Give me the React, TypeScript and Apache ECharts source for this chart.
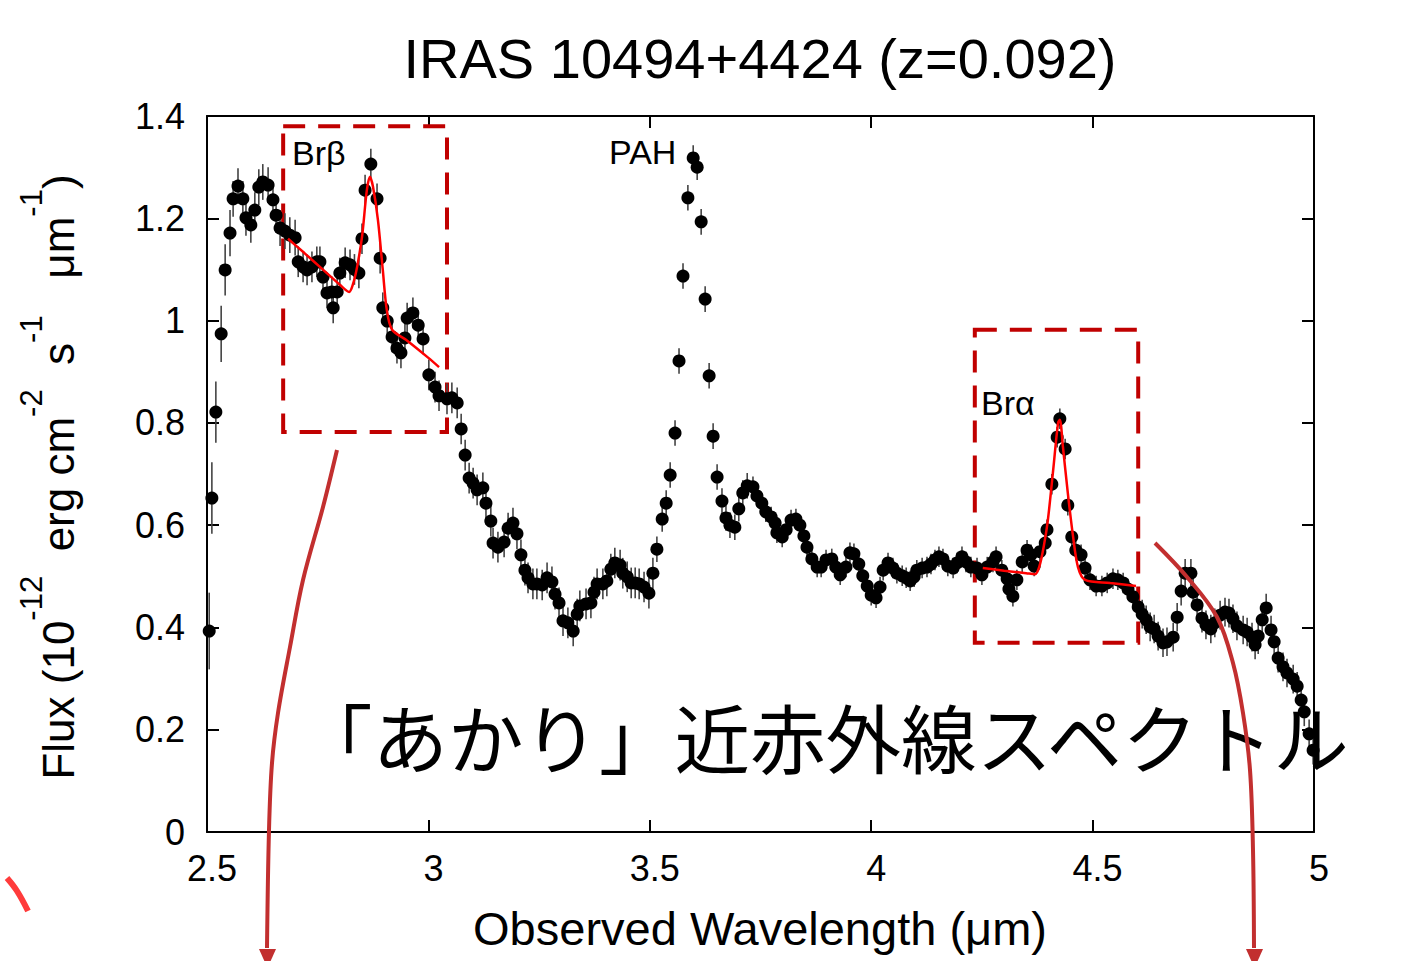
import React, { useEffect, useRef } from 'react';
import * as echarts from 'echarts';

const FONT = '"Liberation Sans", Arial, Helvetica, sans-serif';
const JP_FONT = '"Noto Sans CJK JP", "Noto Sans CJK SC", sans-serif';

// Observed wavelength (µm)
const wavelength = [
  2.505, 2.511, 2.520, 2.532, 2.541, 2.552, 2.559, 2.570, 2.581, 2.588,
  2.599, 2.608, 2.617, 2.626, 2.638, 2.649, 2.656, 2.665, 2.676, 2.687,
  2.699, 2.706, 2.717, 2.726, 2.737, 2.748, 2.755, 2.762, 2.771, 2.782,
  2.785, 2.794, 2.800, 2.812, 2.823, 2.833, 2.843, 2.850, 2.857, 2.870,
  2.884, 2.891, 2.897, 2.907, 2.918, 2.929, 2.938, 2.947, 2.952, 2.965,
  2.977, 2.988, 3.001, 3.015, 3.024, 3.042, 3.053, 3.065, 3.074, 3.083,
  3.092, 3.101, 3.110, 3.123, 3.130, 3.141, 3.146, 3.157, 3.171, 3.180,
  3.191, 3.200, 3.209, 3.218, 3.225, 3.236, 3.245, 3.257, 3.268, 3.279,
  3.286, 3.295, 3.304, 3.315, 3.327, 3.336, 3.342, 3.356, 3.367, 3.374,
  3.381, 3.394, 3.403, 3.412, 3.421, 3.433, 3.439, 3.449, 3.458, 3.467,
  3.476, 3.487, 3.498, 3.507, 3.516, 3.528, 3.537, 3.546, 3.557, 3.566,
  3.575, 3.586, 3.598, 3.607, 3.616, 3.625, 3.634, 3.643, 3.652, 3.663,
  3.672, 3.681, 3.692, 3.701, 3.710, 3.720, 3.733, 3.742, 3.753, 3.762,
  3.774, 3.783, 3.787, 3.799, 3.808, 3.819, 3.830, 3.839, 3.848, 3.855,
  3.866, 3.878, 3.887, 3.898, 3.911, 3.920, 3.930, 3.943, 3.952, 3.961,
  3.972, 3.981, 3.991, 4.000, 4.011, 4.020, 4.027, 4.038, 4.049, 4.058,
  4.070, 4.079, 4.088, 4.097, 4.103, 4.115, 4.126, 4.135, 4.144, 4.153,
  4.162, 4.173, 4.185, 4.194, 4.205, 4.214, 4.225, 4.239, 4.250, 4.262,
  4.275, 4.282, 4.295, 4.307, 4.311, 4.320, 4.329, 4.341, 4.352, 4.361,
  4.368, 4.381, 4.393, 4.397, 4.408, 4.420, 4.426, 4.438, 4.444, 4.453,
  4.462, 4.474, 4.483, 4.494, 4.508, 4.521, 4.533, 4.546, 4.557, 4.569,
  4.580, 4.591, 4.603, 4.612, 4.621, 4.630, 4.639, 4.648, 4.659, 4.668,
  4.682, 4.691, 4.700, 4.709, 4.722, 4.727, 4.736, 4.747, 4.756, 4.767,
  4.776, 4.788, 4.799, 4.808, 4.817, 4.826, 4.840, 4.849, 4.860, 4.867,
  4.874, 4.883, 4.892, 4.903, 4.910, 4.919, 4.930, 4.939, 4.953, 4.962,
  4.971, 4.978, 4.989, 4.998,
];

// Flux (1e-12 erg cm^-2 s^-1 µm^-1)
const flux = [
  0.393, 0.653, 0.821, 0.974, 1.099, 1.171, 1.238, 1.263, 1.238, 1.201,
  1.187, 1.216, 1.261, 1.271, 1.265, 1.236, 1.206, 1.181, 1.175, 1.167,
  1.162, 1.115, 1.105, 1.099, 1.105, 1.115, 1.115, 1.085, 1.054, 1.056,
  1.025, 1.056, 1.093, 1.113, 1.109, 1.100, 1.093, 1.160, 1.255, 1.306,
  1.238, 1.122, 1.025, 0.999, 0.968, 0.946, 0.937, 0.966, 1.005, 1.015,
  0.991, 0.964, 0.894, 0.870, 0.853, 0.847, 0.849, 0.839, 0.788, 0.737,
  0.692, 0.682, 0.669, 0.673, 0.643, 0.608, 0.565, 0.557, 0.567, 0.594,
  0.604, 0.583, 0.542, 0.512, 0.497, 0.485, 0.485, 0.483, 0.497, 0.489,
  0.465, 0.448, 0.413, 0.409, 0.393, 0.426, 0.442, 0.446, 0.448, 0.469,
  0.485, 0.485, 0.491, 0.514, 0.526, 0.522, 0.506, 0.499, 0.487, 0.487,
  0.485, 0.479, 0.467, 0.506, 0.553, 0.612, 0.643, 0.698, 0.780, 0.921,
  1.087, 1.240, 1.318, 1.300, 1.193, 1.042, 0.892, 0.774, 0.694, 0.647,
  0.614, 0.600, 0.596, 0.632, 0.663, 0.677, 0.675, 0.657, 0.643, 0.626,
  0.616, 0.604, 0.585, 0.577, 0.591, 0.610, 0.612, 0.600, 0.579, 0.557,
  0.534, 0.518, 0.518, 0.532, 0.534, 0.518, 0.503, 0.518, 0.546, 0.544,
  0.524, 0.501, 0.481, 0.463, 0.458, 0.479, 0.512, 0.526, 0.516, 0.506,
  0.501, 0.497, 0.491, 0.499, 0.512, 0.516, 0.518, 0.524, 0.532, 0.538,
  0.534, 0.520, 0.516, 0.526, 0.538, 0.528, 0.518, 0.516, 0.503, 0.518,
  0.528, 0.538, 0.512, 0.495, 0.475, 0.461, 0.493, 0.528, 0.551, 0.542,
  0.520, 0.548, 0.565, 0.591, 0.680, 0.772, 0.808, 0.749, 0.639, 0.577,
  0.551, 0.542, 0.516, 0.493, 0.481, 0.481, 0.487, 0.495, 0.493, 0.487,
  0.475, 0.460, 0.440, 0.426, 0.415, 0.401, 0.397, 0.383, 0.370, 0.372,
  0.381, 0.420, 0.471, 0.506, 0.506, 0.469, 0.444, 0.418, 0.405, 0.397,
  0.409, 0.424, 0.430, 0.428, 0.417, 0.403, 0.395, 0.391, 0.381, 0.366,
  0.383, 0.415, 0.438, 0.395, 0.372, 0.340, 0.323, 0.311, 0.299, 0.285,
  0.258, 0.235, 0.192, 0.160,
];

// 1-sigma error on flux
const fluxErr = [
  0.075, 0.070, 0.060, 0.055, 0.050, 0.045, 0.035, 0.035, 0.035, 0.035,
  0.035, 0.035, 0.035, 0.035, 0.035, 0.035, 0.035, 0.035, 0.035, 0.035,
  0.035, 0.030, 0.030, 0.030, 0.030, 0.030, 0.030, 0.030, 0.030, 0.030,
  0.030, 0.030, 0.030, 0.030, 0.030, 0.030, 0.030, 0.030, 0.030, 0.030,
  0.030, 0.030, 0.030, 0.030, 0.030, 0.030, 0.030, 0.030, 0.030, 0.030,
  0.030, 0.030, 0.030, 0.030, 0.030, 0.030, 0.030, 0.030, 0.030, 0.030,
  0.030, 0.030, 0.030, 0.030, 0.030, 0.030, 0.030, 0.030, 0.030, 0.030,
  0.030, 0.030, 0.030, 0.030, 0.030, 0.030, 0.030, 0.030, 0.030, 0.030,
  0.030, 0.030, 0.030, 0.030, 0.030, 0.030, 0.030, 0.030, 0.030, 0.030,
  0.030, 0.030, 0.030, 0.030, 0.030, 0.030, 0.030, 0.030, 0.030, 0.030,
  0.030, 0.030, 0.030, 0.030, 0.025, 0.025, 0.025, 0.025, 0.025, 0.025,
  0.025, 0.025, 0.025, 0.025, 0.025, 0.025, 0.025, 0.025, 0.025, 0.025,
  0.025, 0.025, 0.025, 0.025, 0.025, 0.025, 0.020, 0.020, 0.020, 0.020,
  0.020, 0.020, 0.020, 0.020, 0.020, 0.020, 0.020, 0.020, 0.020, 0.020,
  0.020, 0.020, 0.020, 0.020, 0.020, 0.020, 0.020, 0.020, 0.020, 0.020,
  0.020, 0.020, 0.020, 0.020, 0.020, 0.020, 0.020, 0.020, 0.020, 0.020,
  0.020, 0.020, 0.020, 0.020, 0.020, 0.020, 0.020, 0.020, 0.020, 0.020,
  0.020, 0.020, 0.020, 0.020, 0.020, 0.020, 0.020, 0.020, 0.020, 0.020,
  0.020, 0.020, 0.020, 0.020, 0.020, 0.020, 0.020, 0.020, 0.020, 0.020,
  0.020, 0.020, 0.020, 0.020, 0.020, 0.020, 0.020, 0.020, 0.020, 0.020,
  0.020, 0.020, 0.020, 0.020, 0.020, 0.020, 0.020, 0.020, 0.020, 0.020,
  0.020, 0.020, 0.020, 0.028, 0.028, 0.028, 0.028, 0.028, 0.028, 0.028,
  0.028, 0.028, 0.028, 0.028, 0.028, 0.028, 0.028, 0.028, 0.028, 0.028,
  0.028, 0.028, 0.028, 0.028, 0.028, 0.028, 0.028, 0.028, 0.028, 0.028,
  0.035, 0.028, 0.028, 0.028, 0.028, 0.028, 0.028, 0.028, 0.028, 0.028,
  0.028, 0.028, 0.028, 0.028,
];

// Brβ line fit
const brBetaFitX = [2.683, 2.72, 2.76, 2.80, 2.821, 2.830, 2.839, 2.850, 2.861, 2.868, 2.875, 2.886, 2.897, 2.906, 2.918, 2.95, 3.0, 3.024];
const brBetaFitY = [1.160, 1.132, 1.101, 1.070, 1.056, 1.072, 1.105, 1.163, 1.255, 1.281, 1.261, 1.197, 1.099, 1.021, 0.982, 0.962, 0.927, 0.909];

// Brα line fit
const brAlphaFitX = [4.252, 4.30, 4.35, 4.370, 4.380, 4.390, 4.399, 4.411, 4.422, 4.426, 4.433, 4.444, 4.456, 4.467, 4.483, 4.54, 4.598];
const brAlphaFitY = [0.516, 0.511, 0.506, 0.504, 0.520, 0.560, 0.610, 0.708, 0.800, 0.806, 0.753, 0.663, 0.577, 0.518, 0.493, 0.487, 0.481];

// Dashed boxes around lines: [x0, y0, x1, y1] in data units
const brBetaBox = [2.672, 1.380, 3.042, 0.782];
const brAlphaBox = [4.234, 0.982, 4.603, 0.370];

const titleText = 'IRAS 10494+4424 (z=0.092)';
const xAxisTitle = 'Observed Wavelength (μm)';
const japaneseCaption = '「あかり」近赤外線スペクトル';

export default function App() {
  const ref = useRef<HTMLDivElement>(null);

  useEffect(() => {
    if (!ref.current) return;
    const chart = echarts.init(ref.current, null, { renderer: 'svg' });

    const points = wavelength.map((x, i) => [x, flux[i], fluxErr[i]]);
    const betaFit = brBetaFitX.map((x, i) => [x, brBetaFitY[i]]);
    const alphaFit = brAlphaFitX.map((x, i) => [x, brAlphaFitY[i]]);

    const boxStyle = {
      color: 'rgba(0,0,0,0)',
      borderColor: '#c00000',
      borderWidth: 4,
      borderType: [22, 13],
    };

    const axisCommon = {
      type: 'value',
      min: 2.5,
      max: 5,
      interval: 0.5,
      splitLine: { show: false },
    };
    const yCommon = {
      type: 'value',
      min: 0,
      max: 1.4,
      interval: 0.2,
      splitLine: { show: false },
    };
    const lineStyle = { color: '#000', width: 2 };
    const tickStyle = { show: true, inside: true, length: 12, lineStyle: { color: '#000', width: 2 } };

    const arrowColor = '#c22f2f';

    const option: any = {
      animation: false,
      backgroundColor: '#ffffff',
      textStyle: { fontFamily: FONT },
      grid: { left: 207, right: 113, top: 116, bottom: 129, containLabel: false },
      xAxis: [
        {
          ...axisCommon,
          position: 'bottom',
          axisLine: { show: true, onZero: false, lineStyle },
          axisTick: tickStyle,
          axisLabel: { color: '#000', fontSize: 36, margin: 18, fontFamily: FONT, padding: [0, 0, 0, 10] },
        },
        {
          ...axisCommon,
          position: 'top',
          axisLine: { show: true, onZero: false, lineStyle },
          axisTick: tickStyle,
          axisLabel: { show: false },
        },
      ],
      yAxis: [
        {
          ...yCommon,
          position: 'left',
          axisLine: { show: true, onZero: false, lineStyle },
          axisTick: tickStyle,
          axisLabel: { color: '#000', fontSize: 36, margin: 22, fontFamily: FONT },
        },
        {
          ...yCommon,
          position: 'right',
          axisLine: { show: true, onZero: false, lineStyle },
          axisTick: tickStyle,
          axisLabel: { show: false },
        },
      ],
      series: [
        {
          type: 'custom',
          name: 'errors',
          xAxisIndex: 0,
          yAxisIndex: 0,
          data: points,
          encode: { x: 0, y: 1 },
          silent: true,
          z: 2,
          renderItem: (params: any, api: any) => {
            const x = api.value(0);
            const y = api.value(1);
            const e = api.value(2);
            const top = api.coord([x, y + e]);
            const bot = api.coord([x, y - e]);
            return {
              type: 'line',
              shape: { x1: top[0], y1: top[1], x2: bot[0], y2: bot[1] },
              style: { stroke: '#444', lineWidth: 1.6 },
            };
          },
        },
        {
          type: 'scatter',
          name: 'flux',
          xAxisIndex: 0,
          yAxisIndex: 0,
          data: points.map((p) => [p[0], p[1]]),
          symbol: 'circle',
          symbolSize: 13,
          itemStyle: { color: '#000', opacity: 1 },
          silent: true,
          z: 3,
        },
        {
          type: 'line',
          name: 'Brβ fit',
          xAxisIndex: 0,
          yAxisIndex: 0,
          data: betaFit,
          symbol: 'none',
          smooth: 0.3,
          lineStyle: { color: '#ff0000', width: 2.5 },
          silent: true,
          z: 4,
          markArea: {
            silent: true,
            itemStyle: boxStyle,
            data: [[{ xAxis: brBetaBox[0], yAxis: brBetaBox[1] }, { xAxis: brBetaBox[2], yAxis: brBetaBox[3] }]],
          },
        },
        {
          type: 'line',
          name: 'Brα fit',
          xAxisIndex: 0,
          yAxisIndex: 0,
          data: alphaFit,
          symbol: 'none',
          smooth: 0.3,
          lineStyle: { color: '#ff0000', width: 2.5 },
          silent: true,
          z: 4,
          markArea: {
            silent: true,
            itemStyle: boxStyle,
            data: [[{ xAxis: brAlphaBox[0], yAxis: brAlphaBox[1] }, { xAxis: brAlphaBox[2], yAxis: brAlphaBox[3] }]],
          },
        },
      ],
      graphic: [
        {
          type: 'text',
          x: 760,
          y: 58,
          z: 100,
          style: { text: titleText, fill: '#000', fontSize: 56, fontFamily: FONT, align: 'center', verticalAlign: 'middle' },
        },
        {
          type: 'text',
          x: 760,
          y: 928,
          z: 100,
          style: { text: xAxisTitle, fill: '#000', fontSize: 47, fontFamily: FONT, align: 'center', verticalAlign: 'middle' },
        },
        {
          type: 'text',
          x: 58,
          y: 477,
          rotation: Math.PI / 2,
          z: 100,
          style: {
            text: '{b|Flux (10}{s|-12}{b|  erg cm}{s|-2}{b|  s}{s|-1}{b|   μm}{s|-1}{b|)}',
            fill: '#000',
            align: 'center',
            verticalAlign: 'middle',
            rich: {
              b: { fontSize: 44, fontFamily: FONT, fill: '#000', lineHeight: 84 },
              s: { fontSize: 31, fontFamily: FONT, fill: '#000', verticalAlign: 'top' },
            },
          },
        },
        {
          type: 'text',
          x: 292,
          y: 153,
          z: 100,
          style: { text: 'Brβ', fill: '#000', fontSize: 34, fontFamily: FONT, align: 'left', verticalAlign: 'middle' },
        },
        {
          type: 'text',
          x: 609,
          y: 152,
          z: 100,
          style: { text: 'PAH', fill: '#000', fontSize: 34, fontFamily: FONT, align: 'left', verticalAlign: 'middle' },
        },
        {
          type: 'text',
          x: 981,
          y: 403,
          z: 100,
          style: { text: 'Brα', fill: '#000', fontSize: 34, fontFamily: FONT, align: 'left', verticalAlign: 'middle' },
        },
        {
          type: 'text',
          x: 297,
          y: 735,
          z: 100,
          style: { text: japaneseCaption, fill: '#000', fontSize: 75.5, fontFamily: JP_FONT, align: 'left', verticalAlign: 'middle' },
        },
        {
          type: 'polyline',
          z: 100,
          shape: {
            points: [[337, 450], [323, 507], [303, 580], [290, 647], [278, 713], [272, 763], [269, 830], [267, 948]],
            smooth: 0.35,
          },
          style: { stroke: arrowColor, lineWidth: 4, fill: null },
        },
        {
          type: 'polygon',
          z: 100,
          shape: { points: [[259, 949], [276, 949], [267.5, 968]] },
          style: { fill: arrowColor },
        },
        {
          type: 'polyline',
          z: 100,
          shape: {
            points: [[1155, 543], [1187, 577], [1217, 617], [1233, 663], [1243, 713], [1250, 770], [1253, 850], [1254, 948]],
            smooth: 0.35,
          },
          style: { stroke: arrowColor, lineWidth: 4, fill: null },
        },
        {
          type: 'polygon',
          z: 100,
          shape: { points: [[1246, 949], [1263, 949], [1254.5, 968]] },
          style: { fill: arrowColor },
        },
        {
          type: 'polyline',
          z: 100,
          shape: { points: [[7, 878], [17, 891], [28, 911]], smooth: 0.4 },
          style: { stroke: '#ff3b3b', lineWidth: 6, fill: null },
        },
      ],
    };

    chart.setOption(option);
    return () => chart.dispose();
  }, []);

  return (
    <div
      ref={ref}
      style={{ position: 'absolute', left: 0, top: 0, width: 1427, height: 961, background: '#fff' }}
    />
  );
}
